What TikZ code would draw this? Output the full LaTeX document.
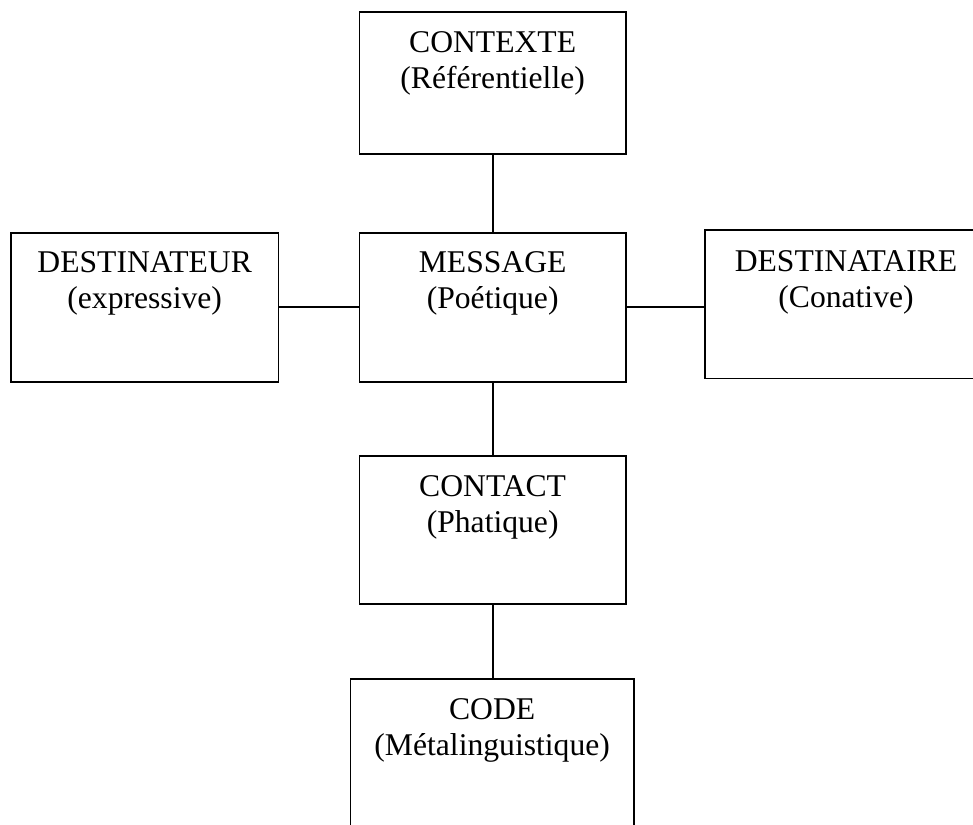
\documentclass[tikz,border=0pt]{standalone}
\usepackage{fontspec}
\setmainfont{Liberation Serif}
\usetikzlibrary{positioning}
\tikzset{boite/.style={draw,line width=1pt,inner sep=0pt},
	titre/.style={align=center,inner sep=0pt,font=\fontsize{18}{20.5}\selectfont}}
\begin{document}
\begin{tikzpicture}[line join=miter,line width=1pt]
			\useasboundingbox (0,0) rectangle (19.46,16.48);
			\clip (0,0) rectangle (19.46,16.48);
			\node[boite,minimum width=5.33cm,minimum height=2.83cm] (ctx) at (9.853,14.82) {};
			\node[boite,minimum width=5.35cm,minimum height=2.99cm] (dst) at (2.893,10.33) {};
			\node[boite,minimum width=5.33cm,minimum height=2.98cm] (msg) at (9.853,10.336) {};
			\node[boite,minimum width=5.63cm,minimum height=2.97cm] (dsr) at (16.92,10.397) {};
			\node[boite,minimum width=5.33cm,minimum height=2.97cm] (cct) at (9.853,5.88) {};
			\node[boite,minimum width=5.67cm,minimum height=3cm] (code) at (9.843,1.4) {};
			\node[titre,below=.38cm of ctx.north] {CONTEXTE\\(Référentielle)};
			\node[titre,below=.38cm of dst.north] {DESTINATEUR\\(expressive)};
			\node[titre,below=.38cm of msg.north] {MESSAGE\\(Poétique)};
			\node[titre,below=.42cm of dsr.north] {DESTINATAIRE\\(Conative)};
			\node[titre,below=.4cm of cct.north] {CONTACT\\(Phatique)};
			\node[titre,below=.4cm of code.north] {CODE\\(Métalinguistique)};
			\draw (ctx.south)--(msg.north);
			\draw (msg.west -| dst.east)--(msg.west);
			\draw (msg.east)--(msg.east -| dsr.west);
			\draw (msg.south)--(cct.north);
			\draw (cct.south)--(cct.south |- code.north);
		\end{tikzpicture}
\end{document}
